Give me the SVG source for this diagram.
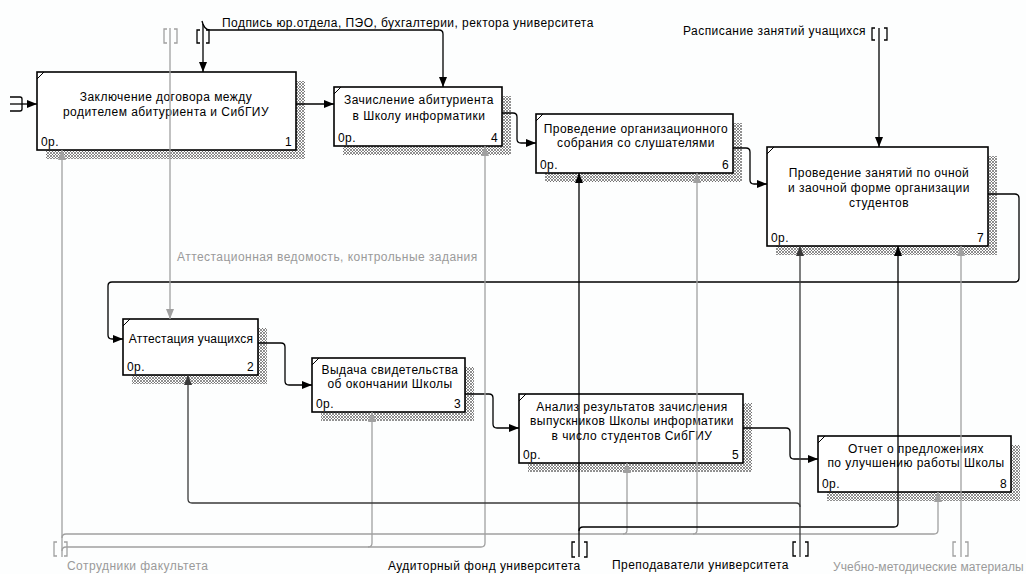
<svg xmlns="http://www.w3.org/2000/svg" width="1026" height="574" viewBox="0 0 1026 574">
<style>
text{font-family:"Liberation Sans",Arial,sans-serif;font-size:12px;fill:#000;letter-spacing:0.45px}
.c{text-anchor:middle}
.r{text-anchor:end}
.g{fill:#9a9a9a}
.box{fill:#fff;stroke:#000;stroke-width:1.6}
.sh{fill:url(#hatch)}
.corner{stroke:#000;stroke-width:1;fill:none}
.k{fill:none;stroke:#000;stroke-width:1.3}
.d{fill:none;stroke:#3a3a3a;stroke-width:1.3}
.gl{fill:none;stroke:#a0a0a0;stroke-width:1.3}
.tk{fill:none;stroke:#000;stroke-width:1.3}
.tg{fill:none;stroke:#a0a0a0;stroke-width:1.3}
</style>
<defs>
<pattern id="hatch" width="3" height="3" patternUnits="userSpaceOnUse">
<rect width="3" height="3" fill="#fff"/>
<path d="M0,3 L3,0 M0,0 L3,3" stroke="#606060" stroke-width="0.7"/>
</pattern>
<marker id="ak" viewBox="0 0 10 8" refX="10" refY="4" markerWidth="10" markerHeight="8" markerUnits="userSpaceOnUse" orient="auto"><path d="M0,0 L10,4 L0,8 z" fill="#000"/></marker>
<marker id="ad" viewBox="0 0 10 8" refX="10" refY="4" markerWidth="10" markerHeight="8" markerUnits="userSpaceOnUse" orient="auto"><path d="M0,0 L10,4 L0,8 z" fill="#3a3a3a"/></marker>
<marker id="ag" viewBox="0 0 10 8" refX="10" refY="4" markerWidth="10" markerHeight="8" markerUnits="userSpaceOnUse" orient="auto"><path d="M0,0 L10,4 L0,8 z" fill="#a0a0a0"/></marker>
</defs>
<rect width="1026" height="574" fill="#fdfefe"/>

<g id="shadows">
<rect class="sh" x="46" y="81" width="259" height="78"/>
<rect class="sh" x="343" y="96" width="168" height="59"/>
<rect class="sh" x="545" y="123" width="197" height="59"/>
<rect class="sh" x="776" y="156" width="221" height="99"/>
<rect class="sh" x="132" y="328" width="135" height="56"/>
<rect class="sh" x="321" y="367" width="153" height="54"/>
<rect class="sh" x="528" y="403" width="224" height="69"/>
<rect class="sh" x="827" y="445" width="193" height="56"/>
</g>

<g id="node1">
<rect class="box" x="37" y="72" width="259" height="78"/>
<path class="corner" d="M37,79 L44,72"/>
<text class="c" x="166" y="101">Заключение договора между</text>
<text class="c" x="166" y="116">родителем абитуриента и СибГИУ</text>
<text x="41" y="146">0р.</text>
<text class="r" x="292" y="146">1</text>
</g>
<g id="node4">
<rect class="box" x="334" y="87" width="168" height="59"/>
<path class="corner" d="M334,94 L341,87"/>
<text class="c" x="419" y="104">Зачисление абитуриента</text>
<text class="c" x="419" y="120">в Школу информатики</text>
<text x="338" y="142">0р.</text>
<text class="r" x="498" y="142">4</text>
</g>
<g id="node6">
<rect class="box" x="536" y="114" width="197" height="59"/>
<path class="corner" d="M536,121 L543,114"/>
<text class="c" x="636" y="133">Проведение организационного</text>
<text class="c" x="636" y="147">собрания со слушателями</text>
<text x="540" y="169">0р.</text>
<text class="r" x="729" y="169">6</text>
</g>
<g id="node7">
<rect class="box" x="767" y="147" width="221" height="99"/>
<path class="corner" d="M767,154 L774,147"/>
<text class="c" x="879" y="177">Проведение занятий по очной</text>
<text class="c" x="879" y="192">и заочной форме организации</text>
<text class="c" x="879" y="207">студентов</text>
<text x="771" y="242">0р.</text>
<text class="r" x="984" y="242">7</text>
</g>
<g id="node2">
<rect class="box" x="123" y="319" width="135" height="56"/>
<path class="corner" d="M123,326 L130,319"/>
<text class="c" x="191" y="343" style="letter-spacing:0.2px">Аттестация учащихся</text>
<text x="127" y="371">0р.</text>
<text class="r" x="254" y="371">2</text>
</g>
<g id="node3">
<rect class="box" x="312" y="358" width="153" height="54"/>
<path class="corner" d="M312,365 L319,358"/>
<text class="c" x="390" y="374">Выдача свидетельства</text>
<text class="c" x="390" y="388">об окончании Школы</text>
<text x="316" y="408">0р.</text>
<text class="r" x="461" y="408">3</text>
</g>
<g id="node5">
<rect class="box" x="519" y="394" width="224" height="69"/>
<path class="corner" d="M519,401 L526,394"/>
<text class="c" x="632" y="411">Анализ результатов зачисления</text>
<text class="c" x="632" y="425">выпускников Школы информатики</text>
<text class="c" x="632" y="440">в число студентов СибГИУ</text>
<text x="523" y="459">0р.</text>
<text class="r" x="739" y="459">5</text>
</g>
<g id="node8">
<rect class="box" x="818" y="436" width="193" height="56"/>
<path class="corner" d="M818,443 L825,436"/>
<text class="c" x="916" y="453">Отчет о предложениях</text>
<text class="c" x="916" y="467">по улучшению работы Школы</text>
<text x="822" y="488">0р.</text>
<text class="r" x="1007" y="488">8</text>
</g>

<g id="connectors">
<path class="tk" d="M10,97 H20 Q22,97 22,99 V109 Q22,111 20,111 H10"/>
<path class="k" d="M10,104 H37" marker-end="url(#ak)"/>
<path class="k" d="M296,104 H334" marker-end="url(#ak)"/>
<path class="k" d="M502,113 H513 Q517,113 517,117 V139 Q517,143 521,143 H536" marker-end="url(#ak)"/>
<path class="k" d="M733,148 H746 Q750,148 750,152 V180 Q750,184 754,184 H767" marker-end="url(#ak)"/>
<path class="k" d="M988,194 H1015 Q1019,194 1019,198 V278 Q1019,282 1015,282 H112 Q108,282 108,286 V335 Q108,339 112,339 H123" marker-end="url(#ak)"/>
<path class="k" d="M258,343 H281 Q285,343 285,347 V381 Q285,385 289,385 H312" marker-end="url(#ak)"/>
<path class="k" d="M465,394 H489 Q493,394 493,398 V424 Q493,428 497,428 H519" marker-end="url(#ak)"/>
<path class="k" d="M743,428 H786 Q790,428 790,432 V455 Q790,459 794,459 H818" marker-end="url(#ak)"/>
<path class="tk" d="M200,30 H197 V43 H200 M206,30 H209 V43 H206"/>
<path class="k" d="M203,24 V72" marker-end="url(#ak)"/>
<path class="k" d="M202,21 Q204,30 210,30 H439 Q443,30 443,34 V87" marker-end="url(#ak)"/>
<path class="tk" d="M875,28 H872 V40 H875 M884,28 H887 V40 H884"/>
<path class="k" d="M879,28 V147" marker-end="url(#ak)"/>
<path class="tg" d="M167,29 H164 V43 H167 M174,29 H177 V43 H174"/>
<path class="gl" d="M170,28 V319" marker-end="url(#ag)"/>
<path class="tg" d="M57,542 H54 V556 H57 M64,542 H67 V556 H64"/>
<path class="gl" d="M62,557 V150" marker-end="url(#ag)"/>
<path class="gl" d="M62,538 Q62,534 66,534 H934 Q938,534 938,530 V492" marker-end="url(#ag)"/>
<path class="gl" d="M623,534 Q627,534 627,530 V463" marker-end="url(#ag)"/>
<path class="gl" d="M693,534 Q697,534 697,530 V173" marker-end="url(#ag)"/>
<path class="gl" d="M62,551 Q62,547 66,547 H481 Q485,547 485,543 V146" marker-end="url(#ag)"/>
<path class="gl" d="M368,547 Q372,547 372,543 V412" marker-end="url(#ag)"/>
<path class="tk" d="M575,542 H572 V557 H575 M584,542 H587 V557 H584"/>
<path class="k" d="M579,557 V173" marker-end="url(#ak)"/>
<path class="k" d="M579,531 Q579,527 583,527 H894 Q898,527 898,523 V246" marker-end="url(#ak)"/>
<path class="tk" d="M796,542 H793 V556 H796 M805,542 H808 V556 H805"/>
<path class="d" d="M800,557 V246" marker-end="url(#ad)"/>
<path class="d" d="M800,507 Q800,503 796,503 H192 Q188,503 188,499 V375" marker-end="url(#ad)"/>
<path class="tg" d="M956,542 H953 V556 H956 M965,542 H968 V556 H965"/>
<path class="gl" d="M961,557 V246" marker-end="url(#ag)"/>
</g>

<g id="labels">
<text x="222" y="27">Подпись юр.отдела, ПЭО, бухгалтерии, ректора университета</text>
<text x="683" y="35">Расписание занятий учащихся</text>
<text class="g" x="177" y="261">Аттестационная ведомость, контрольные задания</text>
<text class="g" x="67" y="570">Сотрудники факультета</text>
<text x="388" y="570">Аудиторный фонд университета</text>
<text x="612" y="569">Преподаватели университета</text>
<text class="g" x="833" y="571" style="letter-spacing:0.1px">Учебно-методические материалы</text>
</g>
</svg>
